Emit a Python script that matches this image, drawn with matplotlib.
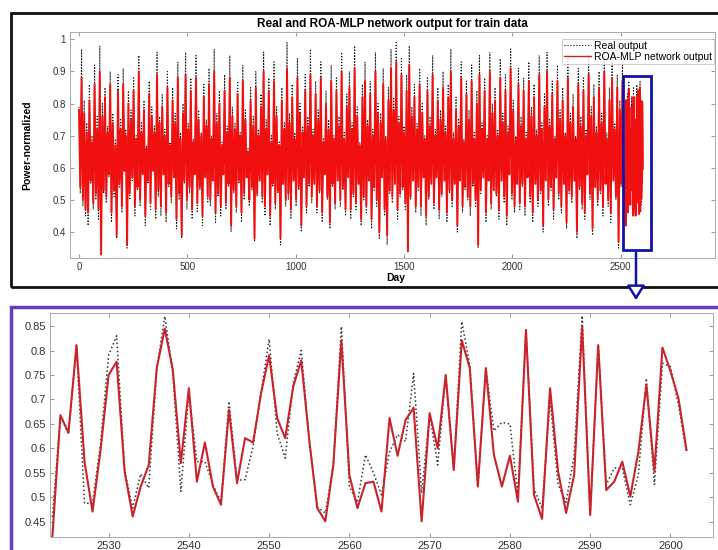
import numpy as np
import matplotlib
matplotlib.use('Agg')
import matplotlib.pyplot as plt
from matplotlib.patches import Rectangle, FancyArrowPatch
from matplotlib.ticker import FormatStrFormatter

plt.rcParams['font.family'] = ['Liberation Sans', 'DejaVu Sans']

# whole train set, sampled every 6 days (values in hundredths)
real_train = [
    79, 52, 97, 48, 81, 45, 74, 42, 86, 55, 70, 47, 92, 50, 76, 44, 98, 39, 80, 52,
    85, 49, 73, 57, 90, 43, 77, 51, 69, 38, 89, 54, 75, 46, 91, 60, 72, 35, 84, 50,
    78, 56, 88, 45, 70, 53, 95, 48, 74, 58, 81, 42, 67, 55, 87, 47, 79, 60, 73, 44,
    96, 51, 76, 45, 83, 59, 72, 43, 90, 54, 68, 49, 85, 57, 77, 41, 93, 50, 71, 38,
    80, 55, 96, 47, 74, 52, 88, 44, 69, 58, 95, 46, 78, 53, 71, 42, 86, 57, 75, 49,
    91, 48, 70, 56, 97, 43, 77, 51, 84, 45, 68, 59, 89, 47, 73, 54, 95, 40, 79, 52,
    74, 46, 87, 55, 71, 43, 92, 50, 78, 57, 66, 48, 85, 53, 76, 37, 90, 51, 72, 56,
    83, 49, 96, 45, 75, 58, 88, 42, 70, 54, 93, 47, 79, 52, 68, 36, 85, 55, 74, 48,
    99, 50, 77, 44, 86, 56, 71, 48, 94, 53, 80, 40, 73, 57, 89, 46, 76, 54, 97, 49,
    72, 55, 87, 46, 78, 52, 93, 43, 69, 58, 84, 50, 75, 41, 92, 54, 70, 47, 88, 56,
    76, 48, 96, 53, 71, 45, 83, 57, 90, 44, 74, 51, 98, 47, 79, 55, 68, 42, 86, 50,
    93, 46, 75, 56, 87, 41, 72, 53, 96, 48, 80, 38, 77, 57, 91, 45, 70, 36, 85, 52,
    97, 49, 82, 55, 99, 44, 76, 51, 94, 53, 73, 47, 89, 35, 98, 50, 79, 56, 86, 46,
    74, 53, 91, 45, 80, 57, 70, 42, 88, 50, 76, 55, 95, 47, 72, 58, 85, 44, 78, 51,
    90, 56, 73, 43, 86, 52, 97, 48, 71, 55, 82, 40, 75, 57, 93, 46, 69, 53, 87, 50,
    78, 45, 92, 54, 71, 48, 84, 35, 95, 52, 74, 57, 88, 43, 70, 56, 96, 47, 80, 53,
    85, 51, 72, 44, 94, 56, 77, 49, 89, 42, 73, 58, 97, 50, 81, 46, 70, 55, 91, 47,
    76, 54, 88, 45, 71, 57, 93, 49, 79, 43, 86, 55, 72, 48, 95, 52, 74, 40, 83, 56,
    96, 48, 75, 53, 87, 44, 70, 57, 92, 50, 78, 46, 85, 55, 71, 41, 94, 52, 77, 49,
    83, 56, 70, 38, 91, 53, 76, 47, 88, 44, 72, 58, 95, 50, 79, 39, 86, 54, 73, 48,
    90, 52, 77, 45, 96, 55, 71, 48, 85, 43, 93, 56, 74, 50, 89, 35, 81, 54, 92, 47,
    55,
]
pred_train = [
    78, 54, 88, 50, 77, 47, 71, 46, 81, 56, 68, 49, 86, 52, 72, 47, 90, 33, 76, 53,
    82, 51, 71, 58, 86, 46, 74, 53, 67, 39, 84, 55, 72, 48, 86, 59, 70, 36, 80, 52,
    75, 57, 84, 48, 69, 54, 90, 50, 71, 58, 78, 45, 66, 56, 83, 49, 76, 59, 71, 47,
    89, 53, 74, 48, 79, 58, 70, 46, 85, 55, 67, 51, 81, 57, 74, 44, 88, 52, 69, 39,
    77, 56, 89, 50, 72, 54, 84, 47, 68, 58, 88, 49, 75, 54, 70, 45, 82, 57, 73, 51,
    86, 50, 69, 56, 90, 46, 74, 52, 80, 48, 67, 58, 84, 49, 71, 55, 88, 42, 76, 53,
    72, 48, 83, 56, 70, 46, 87, 52, 75, 57, 65, 50, 81, 54, 73, 38, 85, 52, 70, 56,
    79, 51, 90, 48, 72, 58, 84, 45, 68, 55, 87, 49, 76, 53, 67, 38, 81, 55, 72, 50,
    91, 52, 74, 47, 82, 56, 69, 50, 88, 54, 77, 42, 71, 57, 84, 48, 73, 55, 89, 51,
    70, 55, 83, 48, 75, 53, 88, 46, 68, 58, 80, 51, 72, 43, 87, 55, 69, 49, 84, 56,
    73, 50, 90, 54, 69, 47, 79, 57, 85, 47, 72, 52, 91, 49, 76, 55, 67, 44, 82, 51,
    87, 48, 73, 56, 83, 44, 70, 54, 90, 50, 77, 40, 74, 57, 86, 47, 69, 39, 81, 53,
    91, 51, 78, 55, 93, 47, 74, 52, 89, 54, 71, 49, 84, 34, 92, 51, 76, 56, 82, 48,
    72, 54, 86, 48, 77, 57, 69, 45, 84, 51, 73, 55, 89, 49, 70, 57, 81, 47, 75, 52,
    85, 56, 71, 46, 82, 53, 90, 50, 69, 55, 78, 42, 73, 56, 88, 48, 68, 54, 83, 51,
    75, 48, 87, 55, 69, 50, 80, 36, 89, 53, 72, 57, 84, 46, 69, 56, 90, 49, 77, 53,
    81, 52, 70, 47, 88, 56, 74, 51, 84, 45, 71, 58, 91, 52, 78, 48, 69, 55, 86, 49,
    73, 55, 84, 48, 69, 57, 87, 51, 76, 46, 82, 55, 70, 50, 89, 53, 72, 42, 79, 56,
    90, 50, 73, 54, 83, 47, 69, 57, 87, 52, 75, 48, 81, 55, 70, 43, 88, 53, 74, 51,
    79, 56, 69, 40, 86, 54, 73, 49, 84, 46, 70, 58, 89, 52, 76, 41, 82, 54, 71, 50,
    85, 53, 74, 48, 90, 55, 69, 50, 81, 46, 88, 56, 72, 51, 85, 37, 78, 55, 87, 49,
    56,
]

# last days
real_zoom = [
    0.460, 0.665, 0.630, 0.810, 0.488, 0.488, 0.610, 0.790, 0.830, 0.555,
    0.478, 0.548, 0.519, 0.762, 0.870, 0.755, 0.512, 0.715, 0.573, 0.573,
    0.526, 0.490, 0.696, 0.535, 0.536, 0.604, 0.715, 0.823, 0.631, 0.580,
    0.733, 0.800, 0.617, 0.480, 0.468, 0.566, 0.849, 0.522, 0.490, 0.587,
    0.550, 0.505, 0.593, 0.628, 0.614, 0.753, 0.509, 0.670, 0.566, 0.750,
    0.556, 0.859, 0.770, 0.522, 0.764, 0.636, 0.653, 0.650, 0.505, 0.842,
    0.518, 0.478, 0.700, 0.526, 0.490, 0.587, 0.871, 0.464, 0.811, 0.526,
    0.560, 0.560, 0.485, 0.546, 0.743, 0.526, 0.774, 0.767, 0.689, 0.590,
]
pred_zoom = [
    0.420, 0.668, 0.632, 0.811, 0.573, 0.471, 0.597, 0.750, 0.777, 0.553,
    0.461, 0.522, 0.566, 0.764, 0.845, 0.760, 0.570, 0.723, 0.532, 0.612,
    0.522, 0.485, 0.679, 0.529, 0.621, 0.612, 0.713, 0.790, 0.662, 0.621,
    0.726, 0.780, 0.617, 0.478, 0.451, 0.566, 0.821, 0.546, 0.478, 0.529,
    0.532, 0.471, 0.662, 0.585, 0.658, 0.683, 0.451, 0.672, 0.600, 0.750,
    0.556, 0.821, 0.764, 0.522, 0.764, 0.587, 0.522, 0.585, 0.491, 0.842,
    0.505, 0.456, 0.723, 0.553, 0.468, 0.546, 0.849, 0.464, 0.811, 0.515,
    0.532, 0.573, 0.502, 0.593, 0.730, 0.553, 0.806, 0.758, 0.702, 0.597,
]

train_days = np.arange(0, 2521, 6)
zoom_days = np.arange(2523, 2603)

days = np.concatenate([train_days, zoom_days])
real_all = np.concatenate([np.array(real_train) / 100, real_zoom])
pred_all = np.concatenate([np.array(pred_train) / 100, pred_zoom])

W, H = 718, 550
fig = plt.figure(figsize=(W / 100, H / 100), dpi=100)


def style_axes(ax, size):
    ax.tick_params(direction='in', top=True, right=True, length=3, width=0.6,
                   color='#888888', labelsize=size, labelcolor='#333333', pad=3)
    for s in ax.spines.values():
        s.set_color('#aaaaaa')
        s.set_linewidth(0.7)


# top panel
ax1 = fig.add_axes([70 / W, 1 - 257.7 / H, 645 / W, 225.4 / H])
ax1.plot(days, real_all, ':', color='#111111', lw=0.8, label='Real output')
ax1.plot(days, pred_all, '-', color='#f01010', lw=1.4, label='ROA-MLP network output')
ax1.set_xlim(-41.5, 2935)
ax1.set_ylim(0.32, 1.022)
ax1.set_xticks([0, 500, 1000, 1500, 2000, 2500])
ax1.set_yticks([0.4, 0.5, 0.6, 0.7, 0.8, 0.9, 1.0])
ax1.yaxis.set_major_formatter(FormatStrFormatter('%g'))
style_axes(ax1, 7)
ax1.set_title('Real and ROA-MLP network output for train data', fontsize=8.5,
              fontweight='bold', pad=4)
ax1.set_xlabel('Day', fontsize=7.5, fontweight='bold')
ax1.xaxis.set_label_coords(0.505, -0.066)
ax1.set_ylabel('Power-normalized', fontsize=7.5, fontweight='bold')
ax1.yaxis.set_label_coords(-0.059, 0.5)
leg = ax1.legend(loc='upper right', bbox_to_anchor=(1.0, 0.975), fontsize=7.5,
                 frameon=True, fancybox=False, edgecolor='#bbbbbb',
                 handlelength=2.6, handletextpad=0.3, labelspacing=0.05,
                 borderpad=0.2, borderaxespad=0.1)
leg.get_frame().set_linewidth(0.6)
leg.get_lines()[1].set_color('#c0262d')
leg.get_lines()[1].set_linewidth(1.0)

# zoom box on the top panel
ax1.add_patch(Rectangle((2512, 0.345), 126, 0.541, fill=False,
                        edgecolor='#1212a8', lw=2, clip_on=False, zorder=5))

# bottom panel
ax2 = fig.add_axes([50 / W, 1 - 537 / H, 663 / W, 223.7 / H])
ax2.plot(zoom_days, real_zoom, ':', color='#333333', lw=1.1)
ax2.plot(zoom_days, pred_zoom, '-', color='#c9232b', lw=1.5)
ax2.set_xlim(2522.7, 2605.3)
ax2.set_ylim(0.419, 0.876)
ax2.set_xticks(np.arange(2530, 2601, 10))
ax2.set_yticks([0.45, 0.5, 0.55, 0.6, 0.65, 0.7, 0.75, 0.8, 0.85])
ax2.yaxis.set_major_formatter(FormatStrFormatter('%g'))
style_axes(ax2, 8)

# panel frames and arrow
fig.add_artist(Rectangle((10.7 / W, 1 - 286.7 / H), 1.0, 274 / H, fill=False,
                         edgecolor='#111111', lw=2, transform=fig.transFigure))
fig.add_artist(Rectangle((11 / W, -0.05), 1.0, 1 - 306.7 / H + 0.05, fill=False,
                         edgecolor='#6a3db8', lw=2.5, transform=fig.transFigure))
fig.add_artist(FancyArrowPatch((636 / W, 1 - 250 / H), (636 / W, 1 - 303 / H),
                               transform=fig.transFigure,
                               arrowstyle='-|>,head_length=0.8,head_width=0.5',
                               mutation_scale=11, lw=1.8, edgecolor='#1212a8',
                               facecolor='white'))

fig.savefig('out.png', dpi=100)
